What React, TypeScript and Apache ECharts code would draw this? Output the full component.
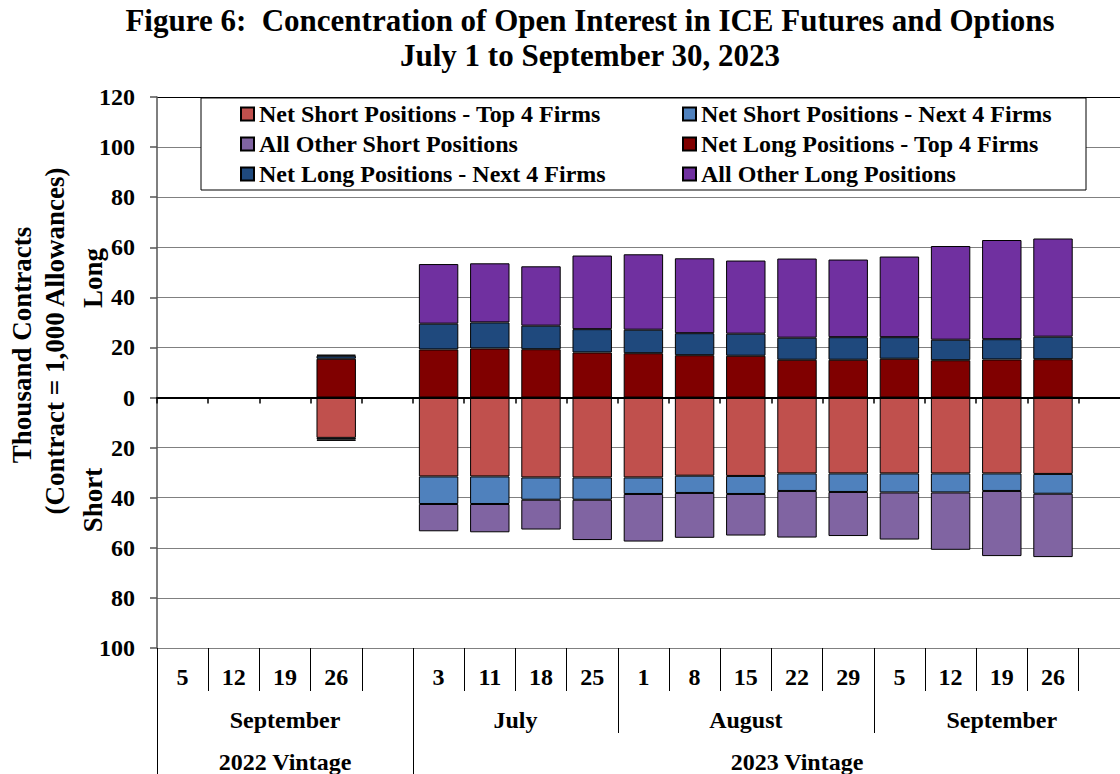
import React, { useEffect, useRef } from "react";
import * as echarts from "echarts";

const FONT = '"Liberation Serif", "Times New Roman", serif';

// Category axis: day labels (row 1), month groups (row 2), vintage groups (row 3)
const dayLabels = ["5", "12", "19", "26", "", "3", "11", "18", "25", "1", "8", "15", "22", "29", "5", "12", "19", "26", "", ""];
const monthLabels = ["September", "July", "August", "September", ""];
const monthSpans = [5, 4, 5, 5, 1];
const vintageLabels = ["2022 Vintage", "2023 Vintage"];
const vintageSpans = [5, 15];

// Thousand contracts (long side positive, short side given as magnitudes)
const netLongTop4 = [null, null, null, 15.5, null, 19.2, 19.6, 19.3, 18.0, 17.7, 16.9, 16.7, 15.1, 15.1, 15.5, 14.9, 15.2, 15.3, null, null];
const netLongNext4 = [null, null, null, 1.2, null, 10.3, 10.4, 9.4, 9.3, 9.4, 8.8, 8.8, 8.8, 9.0, 8.6, 8.2, 8.1, 9.0, null, null];
const allOtherLong = [null, null, null, 0.4, null, 23.8, 23.6, 23.7, 29.4, 30.1, 29.9, 29.2, 31.6, 31.0, 32.2, 37.4, 39.6, 39.2, null, null];
const netShortTop4 = [null, null, null, 16.1, null, 31.5, 31.5, 31.9, 31.9, 31.9, 31.2, 31.3, 30.3, 30.3, 30.3, 30.3, 30.3, 30.5, null, null];
const netShortNext4 = [null, null, null, 0.7, null, 11.0, 11.0, 8.9, 8.9, 6.6, 6.9, 7.2, 7.0, 7.4, 7.6, 7.6, 7.0, 7.9, null, null];
const allOtherShort = [null, null, null, 0.5, null, 10.9, 11.3, 11.9, 16.1, 19.0, 17.9, 16.6, 18.6, 17.6, 18.8, 22.9, 26.0, 25.3, null, null];

const seriesNames = [
  "Net Short Positions - Top 4 Firms",
  "Net Short Positions - Next 4 Firms",
  "All Other Short Positions",
  "Net Long Positions - Top 4 Firms",
  "Net Long Positions - Next 4 Firms",
  "All Other Long Positions",
];
const seriesColors = ["#C0504D", "#4F81BD", "#8064A2", "#800000", "#1F497D", "#7030A0"];

const titleText = "Figure 6:  Concentration of Open Interest in ICE Futures and Options\nJuly 1 to September 30, 2023";

function buildHalfAxis(labels: string[], spans: number[]) {
  const total = spans.reduce((a, b) => a + b, 0) * 2;
  const data: string[] = new Array(total + 1).fill("");
  const bounds = new Set<number>([0]);
  const centers = new Set<number>();
  let pos = 0;
  spans.forEach((s, k) => {
    centers.add(pos + s);
    data[pos + s] = labels[k];
    pos += 2 * s;
    bounds.add(pos);
  });
  return { data, bounds, centers };
}

export default function App() {
  const ref = useRef<HTMLDivElement>(null);
  useEffect(() => {
    if (!ref.current) return;
    const chart = echarts.init(ref.current, undefined, { renderer: "svg" });
    const categories = dayLabels.map((d, i) => `${i}:${d}`);
    const months = buildHalfAxis(monthLabels, monthSpans);
    const vintages = buildHalfAxis(vintageLabels, vintageSpans);
    const neg = (arr: (number | null)[]) => arr.map((v) => (v == null ? null : -v));
    const seriesData = [
      neg(netShortTop4),
      neg(netShortNext4),
      neg(allOtherShort),
      netLongTop4,
      netLongNext4,
      allOtherLong,
    ];
    const labelFont = { fontFamily: FONT, fontWeight: "bold" as const, fontSize: 24, color: "#000" };
    const col1W = 417;
    const col2W = 360;
    const gridColors = [...new Array(11).fill("#808080"), "#000"];

    const option: any = {
      animation: false,
      backgroundColor: "#fff",
      title: {
        text: titleText,
        left: 590,
        top: 0,
        textAlign: "center",
        padding: [3, 0, 0, 0],
        textStyle: { fontFamily: FONT, fontWeight: "bold", fontSize: 31, lineHeight: 35, color: "#000" },
      },
      legend: {
        left: 201,
        top: 98,
        width: 830,
        orient: "horizontal",
        padding: [4, 25, 4, 39],
        itemGap: 6,
        itemWidth: 13,
        itemHeight: 13,
        borderColor: "#000",
        borderWidth: 1,
        backgroundColor: "#fff",
        icon: "rect",
        textStyle: { fontFamily: FONT, fontWeight: "bold", fontSize: 24, lineHeight: 24, color: "#000" },
        data: seriesNames.map((n, i) => ({ name: n, textStyle: { width: i % 2 === 0 ? col1W : col2W } })),
      },
      grid: { left: 157, top: 97, bottom: 126, width: 1024, containLabel: false, outerBoundsMode: "none" },
      yAxis: {
        type: "value",
        min: -100,
        max: 120,
        interval: 20,
        axisLine: { show: true, lineStyle: { color: "#555", width: 1.5 } },
        axisTick: { show: true, length: 7, lineStyle: { color: "#555", width: 1.5 } },
        axisLabel: { ...labelFont, margin: 22, formatter: (v: number) => String(Math.abs(v)) },
        splitLine: { show: true, lineStyle: { color: gridColors, width: 1 } },
      },
      xAxis: [
        {
          type: "category",
          data: categories,
          position: "bottom",
          axisLine: { show: true, onZero: true, lineStyle: { color: "#000", width: 2 } },
          axisTick: { show: true, length: 6, interval: 0, lineStyle: { color: "#000", width: 1.5 } },
          axisLabel: { show: false },
          splitLine: { show: false },
          z: 5,
        },
        {
          type: "category",
          data: dayLabels,
          position: "bottom",
          axisLine: { show: false, onZero: false },
          axisTick: { show: true, length: 43, interval: 0, lineStyle: { color: "#000", width: 1 } },
          axisLabel: { ...labelFont, margin: 17, interval: 0 },
          splitLine: { show: false },
        },
        {
          type: "category",
          data: months.data,
          boundaryGap: false,
          position: "bottom",
          axisLine: { show: false, onZero: false },
          axisTick: { show: true, length: 85, interval: (i: number) => months.bounds.has(i), lineStyle: { color: "#000", width: 1 } },
          axisLabel: { ...labelFont, margin: 60, interval: (i: number) => months.centers.has(i) },
          splitLine: { show: false },
        },
        {
          type: "category",
          data: vintages.data,
          boundaryGap: false,
          position: "bottom",
          axisLine: { show: false, onZero: false },
          axisTick: { show: true, length: 130, interval: (i: number) => vintages.bounds.has(i), lineStyle: { color: "#000", width: 1 } },
          axisLabel: { ...labelFont, margin: 102, interval: (i: number) => vintages.centers.has(i) },
          splitLine: { show: false },
        },
      ],
      series: seriesNames.map((name, i) => ({
        name,
        type: "bar",
        stack: "total",
        xAxisIndex: 0,
        yAxisIndex: 0,
        barWidth: "77%",
        data: seriesData[i],
        itemStyle: { color: seriesColors[i], borderColor: "#000", borderWidth: 1 },
      })),
      graphic: [
        {
          type: "text",
          x: 22,
          y: 345,
          rotation: Math.PI / 2,
          style: { text: "Thousand Contracts", fontFamily: FONT, fontWeight: "bold", fontSize: 27, fill: "#000", align: "center", verticalAlign: "middle", textAlign: "center", textVerticalAlign: "middle" },
        },
        {
          type: "text",
          x: 55,
          y: 341,
          rotation: Math.PI / 2,
          style: { text: "(Contract = 1,000 Allowances)", fontFamily: FONT, fontWeight: "bold", fontSize: 27, fill: "#000", align: "center", verticalAlign: "middle", textAlign: "center", textVerticalAlign: "middle" },
        },
        {
          type: "text",
          x: 93,
          y: 278,
          rotation: Math.PI / 2,
          style: { text: "Long", fontFamily: FONT, fontWeight: "bold", fontSize: 27, fill: "#000", align: "center", verticalAlign: "middle", textAlign: "center", textVerticalAlign: "middle" },
        },
        {
          type: "text",
          x: 93,
          y: 500,
          rotation: Math.PI / 2,
          style: { text: "Short", fontFamily: FONT, fontWeight: "bold", fontSize: 27, fill: "#000", align: "center", verticalAlign: "middle", textAlign: "center", textVerticalAlign: "middle" },
        },
      ],
    };
    chart.setOption(option);
    return () => chart.dispose();
  }, []);
  return <div ref={ref} style={{ position: "absolute", left: 0, top: 0, width: 1120, height: 774 }} />;
}
